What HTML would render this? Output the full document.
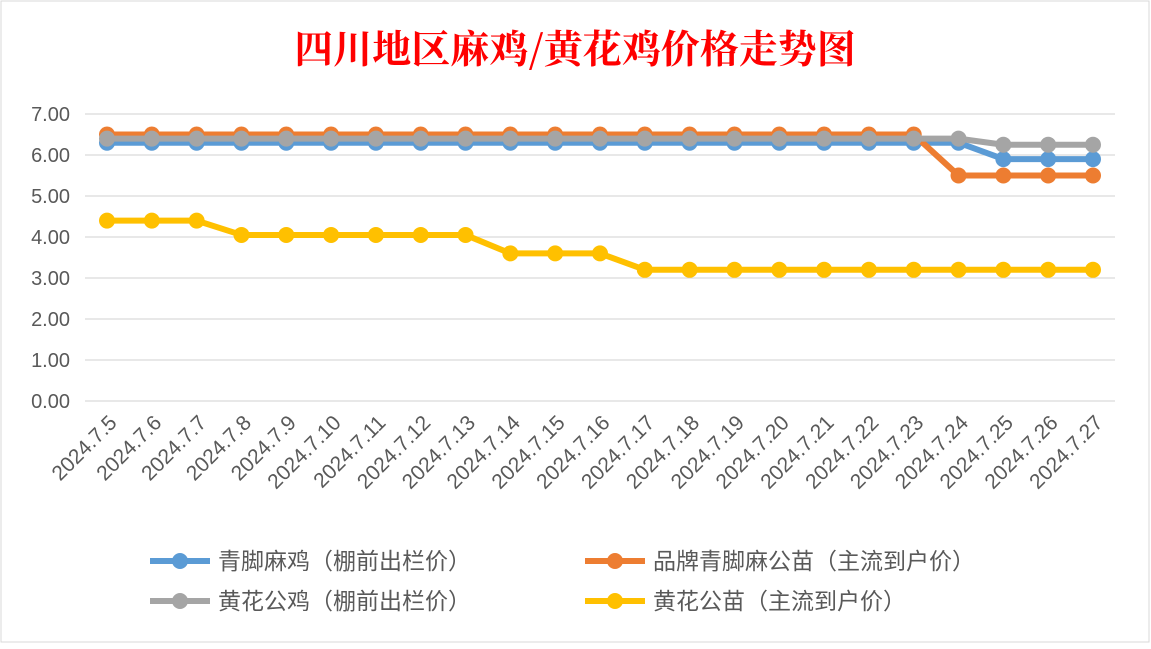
<!DOCTYPE html>
<html><head><meta charset="utf-8"><style>
body{margin:0;background:#fff;}
svg text{font-family:"Liberation Sans","Noto Sans CJK SC",sans-serif;}
</style></head><body>
<svg width="1151" height="644" id="c">
<rect x="1" y="1" width="1148" height="641" fill="#fff" stroke="#d9d9d9"/>
<text x="575" y="63" text-anchor="middle" font-size="39" fill="#ff0000" font-weight="bold" style="font-family:'Noto Serif CJK SC',serif">四川地区麻鸡/黄花鸡价格走势图</text>
<g id="grid"></g><g id="series"></g><g id="legend"></g>
</svg>
<script>
const categories=["2024.7.5","2024.7.6","2024.7.7","2024.7.8","2024.7.9","2024.7.10","2024.7.11","2024.7.12","2024.7.13","2024.7.14","2024.7.15","2024.7.16","2024.7.17","2024.7.18","2024.7.19","2024.7.20","2024.7.21","2024.7.22","2024.7.23","2024.7.24","2024.7.25","2024.7.26","2024.7.27"];
const blueVals=[6.3,6.3,6.3,6.3,6.3,6.3,6.3,6.3,6.3,6.3,6.3,6.3,6.3,6.3,6.3,6.3,6.3,6.3,6.3,6.3,5.9,5.9,5.9];
const orangeVals=[6.5,6.5,6.5,6.5,6.5,6.5,6.5,6.5,6.5,6.5,6.5,6.5,6.5,6.5,6.5,6.5,6.5,6.5,6.5,5.5,5.5,5.5,5.5];
const grayVals=[6.4,6.4,6.4,6.4,6.4,6.4,6.4,6.4,6.4,6.4,6.4,6.4,6.4,6.4,6.4,6.4,6.4,6.4,6.4,6.4,6.25,6.25,6.25];
const yellowVals=[4.4,4.4,4.4,4.05,4.05,4.05,4.05,4.05,4.05,3.6,3.6,3.6,3.2,3.2,3.2,3.2,3.2,3.2,3.2,3.2,3.2,3.2,3.2];
const yTicks=["0.00","1.00","2.00","3.00","4.00","5.00","6.00","7.00"];
const seriesNames=["青脚麻鸡（棚前出栏价）","品牌青脚麻公苗（主流到户价）","黄花公鸡（棚前出栏价）","黄花公苗（主流到户价）"];
const NS="http://www.w3.org/2000/svg";
const x0=107,x1=1093,y0=401,y7=114,xl=85,xr=1115;
const xs=i=>x0+(x1-x0)*i/(categories.length-1);
const ys=v=>y0-(y0-y7)*v/7;
function mk(t,a,p){const e=document.createElementNS(NS,t);for(const k in a)e.setAttribute(k,a[k]);p.appendChild(e);return e;}
const grid=document.getElementById('grid');
yTicks.forEach((t,i)=>{const v=parseFloat(t);
 const l=mk('line',{x1:xl,x2:xr,y1:ys(v),y2:ys(v),stroke:'#d9d9d9','stroke-width':1.3},grid);
 
 
 const tx=mk('text',{x:70,y:ys(v)+7,'text-anchor':'end','font-size':20,fill:'#595959'},grid);tx.textContent=t;
 
 
});
categories.forEach((c,i)=>{
 const tx=mk('text',{x:0,y:0,'text-anchor':'end','font-size':21,fill:'#595959',transform:`translate(${xs(i)+11},${y0+23}) rotate(-45)`},grid);tx.textContent=c;
 
 
});
const colors=["#5b9bd5","#ed7d31","#a5a5a5","#ffc000"];
const data=[blueVals,orangeVals,grayVals,yellowVals];
const sg=document.getElementById('series');
data.forEach((vals,s)=>{
 const g=mk('g',{},sg);
 
 
 mk('polyline',{points:vals.map((v,i)=>xs(i)+','+ys(v)).join(' '),fill:'none',stroke:colors[s],'stroke-width':6,'stroke-linejoin':'round'},g);
 vals.forEach((v,i)=>{const p=mk('circle',{cx:xs(i),cy:ys(v),r:8,fill:colors[s]},g);
  
  });
});
const lg=document.getElementById('legend');
const lpos=[[150,561],[585,561],[150,601],[585,601]];
seriesNames.forEach((n,s)=>{const [lx,ly]=lpos[s];
 const g=mk('g',{},lg);
 
 
 mk('line',{x1:lx,x2:lx+60,y1:ly,y2:ly,stroke:colors[s],'stroke-width':6},g);
 mk('circle',{cx:lx+30,cy:ly,r:8,fill:colors[s]},g);
 const t=mk('text',{x:lx+68,y:ly+8,'font-size':23,fill:'#595959'},g);t.textContent=n;
});
</script>
</body></html>
